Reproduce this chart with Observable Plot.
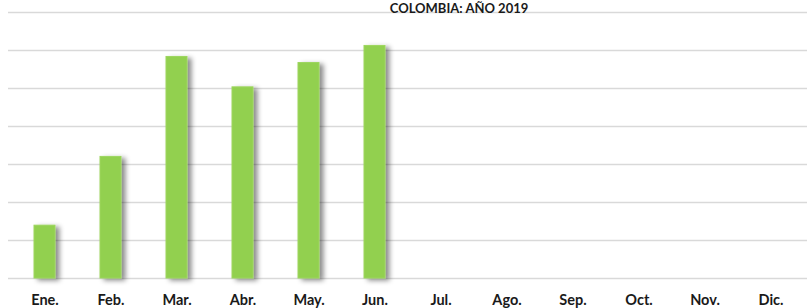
<!DOCTYPE html>
<html>
<head>
<meta charset="utf-8">
<script src="https://cdn.jsdelivr.net/npm/d3@7"></script>
<script src="https://cdn.jsdelivr.net/npm/@observablehq/plot@0.6"></script>
<style>
  html, body { margin: 0; padding: 0; background: #fff; }
  #chart { width: 807px; height: 308px; overflow: hidden; }
</style>
</head>
<body>
<div id="chart"></div>
<script>
const title = "COLOMBIA: AÑO 2019";
const months = ["Ene.", "Feb.", "Mar.", "Abr.", "May.", "Jun.", "Jul.", "Ago.", "Sep.", "Oct.", "Nov.", "Dic."];
const values = [1.39, 3.20, 5.83, 5.03, 5.67, 6.12, null, null, null, null, null, null];
const gridTicks = [0, 1, 2, 3, 4, 5, 6, 7];

const data = months.map((m, i) => ({month: m, value: values[i]}));
const bars = data.filter(d => d.value != null);

const plot = Plot.plot({
  width: 807,
  height: 308,
  marginLeft: 8,
  marginRight: 0,
  marginTop: 12,
  marginBottom: 30,
  style: {fontFamily: "Lato, 'Open Sans', sans-serif", background: "#fff", overflow: "visible"},
  x: {domain: months, paddingInner: 0.686, paddingOuter: 0.343, label: null},
  y: {domain: [0, 7], axis: null},
  marks: [
    Plot.ruleY(gridTicks, {stroke: "#d9d9d9", strokeWidth: 1.5}),
    Plot.barY(bars, {x: "month", y: "value", fill: "#92D050", stroke: "#9dd65f", strokeWidth: 1}),
    Plot.axisX({tickSize: 0, tickPadding: 16, fontSize: 14.5, fontWeight: "bold", fill: "#1a1a1a", label: null}),
    Plot.text([title], {frameAnchor: "top", dx: 51, dy: 0, textAnchor: "middle", lineAnchor: "bottom", fontSize: 13, fontWeight: "bold", fill: "#1a1a1a"})
  ]
});

document.getElementById("chart").appendChild(plot);

// Drop shadow on the bars
const svg = d3.select(plot);
const defs = svg.insert("defs", ":first-child");
const f = defs.append("filter").attr("id", "barShadow").attr("x", "-20%").attr("y", "-10%").attr("width", "180%").attr("height", "130%");
f.append("feDropShadow").attr("dx", 4).attr("dy", 2).attr("stdDeviation", 2.5).attr("flood-color", "#000").attr("flood-opacity", 0.45);
svg.selectAll("g[aria-label='bar']").attr("filter", "url(#barShadow)");
</script>
</body>
</html>
